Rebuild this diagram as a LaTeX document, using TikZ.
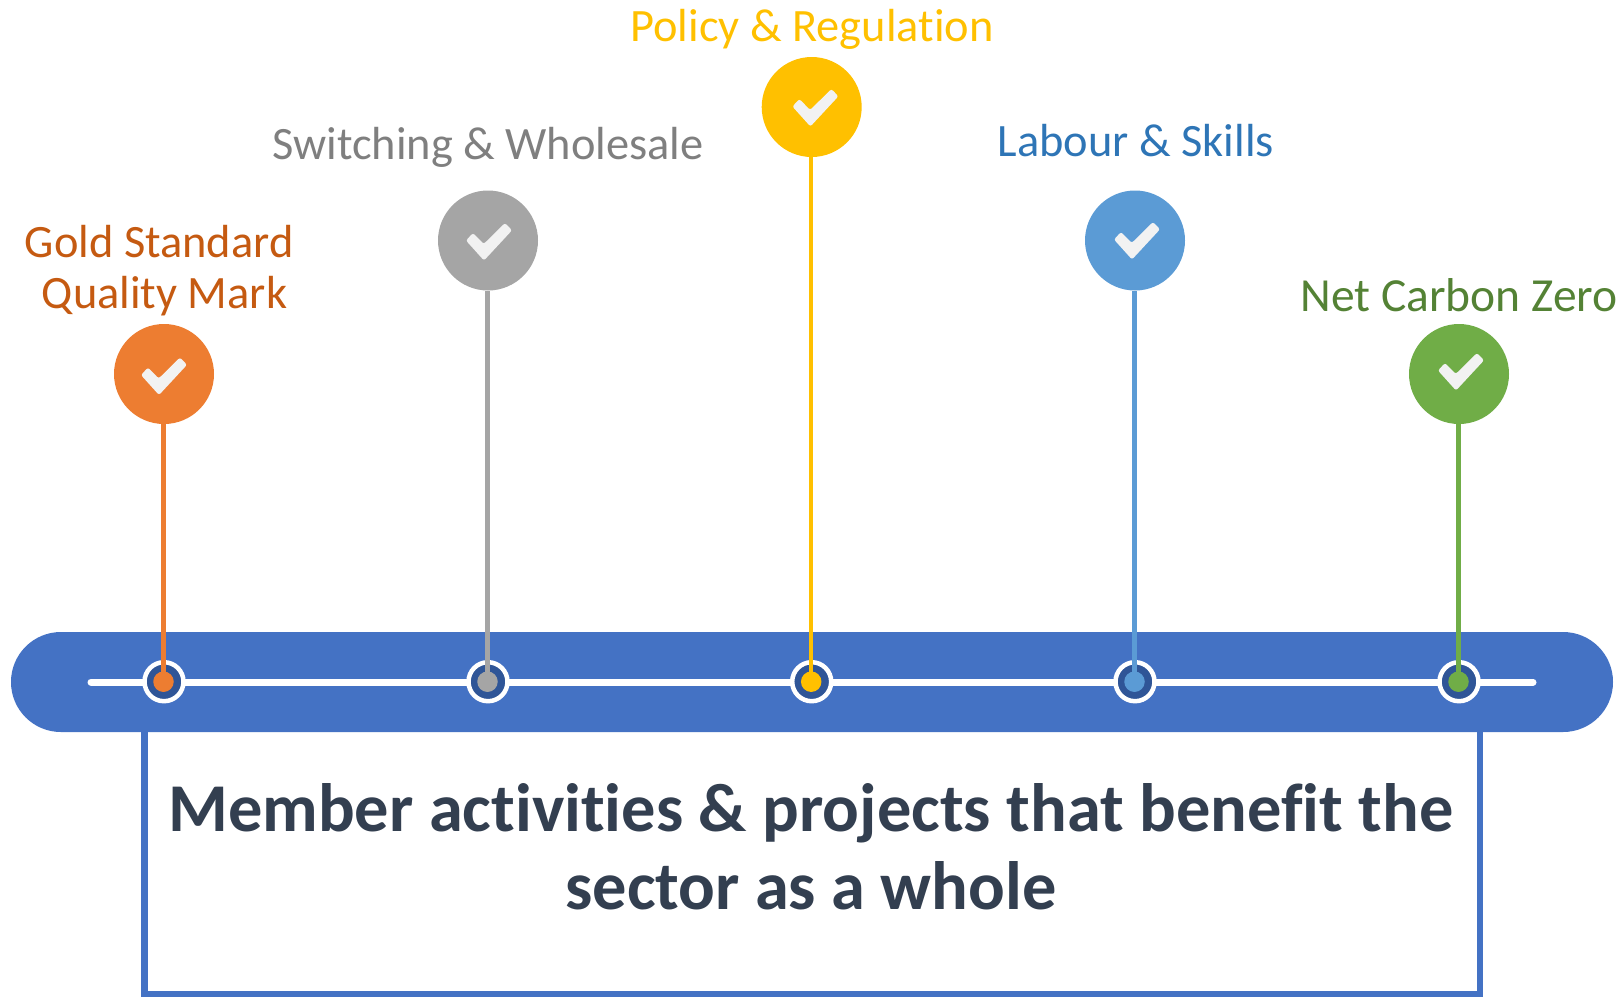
\documentclass[tikz,border=0pt]{standalone}
\usepackage{fontspec}
\setmainfont[Ligatures=NoCommon]{Carlito}
\definecolor{barblue}{HTML}{4472C4}
\definecolor{darkblue}{HTML}{2F5597}
\definecolor{ink}{HTML}{333F50}
\definecolor{tickc}{HTML}{F2F2F2}
\definecolor{cO}{HTML}{ED7D31}\definecolor{tO}{HTML}{C55A11}
\definecolor{cG}{HTML}{A5A5A5}\definecolor{tG}{HTML}{7F7F7F}
\definecolor{cY}{HTML}{FFC000}\definecolor{tY}{HTML}{FFC000}
\definecolor{cB}{HTML}{5B9BD5}\definecolor{tB}{HTML}{2E75B6}
\definecolor{cV}{HTML}{70AD47}\definecolor{tV}{HTML}{548235}
\tikzset{
 pin/.style={circle,fill=#1,minimum size=100pt,inner sep=0pt},
 ring/.style={circle,draw=white,line width=4.5pt,fill=darkblue,minimum size=39pt,inner sep=0pt},
 dot/.style={circle,fill=#1,minimum size=20.5pt,inner sep=0pt},
 stem/.style={draw=#1,line width=4.5pt},
 lab/.style={text=#1,font=\fontsize{46.4}{51.2}\selectfont,align=center,inner sep=0pt},
}
\newcommand{\pinset}[5]{% id, x, y, colour, tick offset
 \node[ring] (r#1) at (#2,681.7) {};
 \node[dot=#4] (d#1) at (#2-0.5,681.7) {};
 \node[pin=#4] (p#1) at (#2,#3) {};
 \draw[stem=#4] ([xshift=-0.7pt]p#1.south) -- ([xshift=-0.2pt]d#1.center);
 \fill[tickc,rounded corners=2.2pt,shift={(p#1.center)},shift={(#5)}]
   (-21,-3.5) -- (-14,-11) -- (-3.3,0) -- (18,-21) -- (25,-13.7) -- (-3,16.5) -- cycle;
}
\begin{document}
\begin{tikzpicture}[x=1pt,y=-1pt]
\useasboundingbox (0,0) rectangle (1623,997);
\node[draw=barblue,line width=6.5pt,fill=white,minimum width=1335.5pt,minimum height=300pt,inner sep=0pt] (box) at (812,844) {};
\fill[barblue,rounded corners=49.9pt] (11,632) rectangle (1613,732);
\coordinate (la) at (91,682);
\coordinate (lb) at (1533,682);
\draw[white,line width=7pt,line cap=round] (la) -- (lb);
\pinset{1}{164}{374}{cO}{-2,4.5}
\pinset{2}{488}{240.5}{cG}{-1,3.5}
\pinset{3}{811.7}{107}{cY}{1.7,3}
\pinset{4}{1135}{240.5}{cB}{0,2.5}
\pinset{5}{1459}{374}{cV}{0,0}
\node[lab=tO] (l1) at (164.5,270.5) {Gold Standard\hspace*{10.7pt}\\Quality Mark};
\node[lab=tG] (l2) at (488,147) {Switching \& Wholesale};
\node[lab=tY] (l3) at (812,29) {Policy \& Regulation};
\node[lab=tB] (l4) at (1136,141) {Labour \& Skills};
\node[lab=tV,font=\fontsize{47.5}{52}\selectfont] (l5) at (1459,295) {Net Carbon Zero};
\node[text=ink,font=\fontsize{68.4}{77.6}\selectfont\bfseries,align=center,inner sep=0pt] (t) at (811,846.5) {Member activities \& projects that benefit the\\sector as a whole};
\end{tikzpicture}
\end{document}
